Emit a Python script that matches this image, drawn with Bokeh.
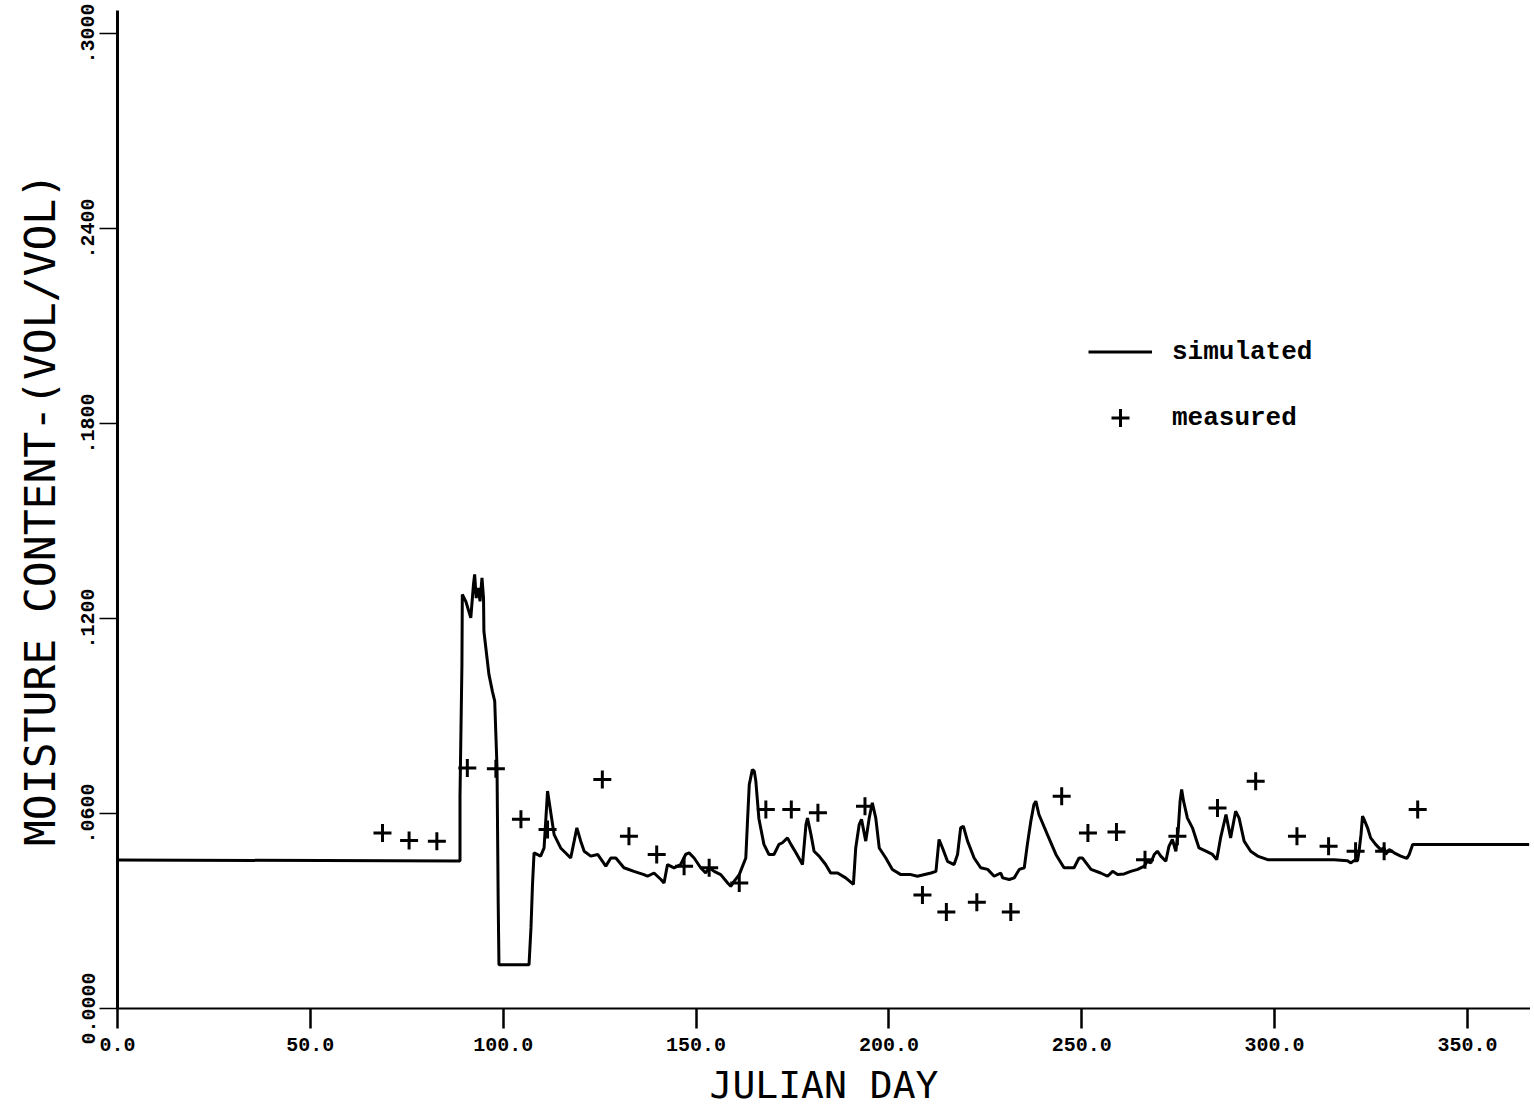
from bokeh.plotting import figure
from bokeh.models import Range1d, FixedTicker, Legend, LegendItem
from bokeh.embed import file_html
from bokeh.resources import INLINE

# ---------------- data ----------------
sim_day = [0.0, 88.8, 88.8, 89.3, 89.4, 90.3, 91.6, 92.3, 92.6, 93.0, 93.5, 94.0, 94.5, 94.9,
           95.0, 96.3, 97.2, 97.8, 98.4, 98.7, 98.9, 106.7, 107.2, 107.6, 108.0, 109.7, 110.6,
           111.5, 112.4, 113.2, 114.9, 117.5, 118.4, 119.1, 120.1, 121.0, 122.7, 124.5, 126.6,
           127.9, 129.2, 131.3, 133.9, 136.5, 137.4, 139.1, 140.9, 141.7, 142.6, 144.3, 146.0,
           147.3, 148.2, 149.5, 151.2, 152.5, 153.4, 154.7, 156.4, 158.2, 159.0, 159.9, 161.2,
           162.9, 163.3, 163.8, 164.6, 165.1, 165.5, 166.3, 167.6, 168.9, 170.2, 171.5, 172.4,
           173.7, 174.6, 175.9, 177.6, 178.5, 178.9, 179.8, 180.6, 181.9, 183.6, 184.9, 186.7,
           188.8, 190.8, 191.4, 192.3, 192.9, 194.0, 194.9, 195.7, 196.6, 197.5, 199.2, 200.9,
           203.1, 205.7, 207.4, 210.9, 212.2, 213.0, 213.9, 215.2, 216.9, 217.8, 218.6, 219.3,
           220.4, 222.1, 223.8, 225.6, 227.3, 229.0, 229.5, 231.2, 232.5, 233.8, 235.1, 235.9,
           236.8, 237.6, 238.1, 238.9, 241.1, 243.3, 245.4, 248.0, 249.3, 250.2, 252.4, 254.9,
           256.7, 258.0, 259.3, 261.0, 262.7, 264.5, 266.2, 267.0, 267.9, 268.8, 269.6, 270.5,
           271.8, 272.6, 273.5, 274.4, 275.0, 275.5, 275.9, 276.4, 277.4, 278.7, 280.4, 282.2,
           283.9, 285.0, 286.0, 287.4, 288.6, 289.9, 290.8, 292.1, 293.8, 295.6, 298.2, 302.5,
           309.4, 315.4, 318.9, 319.8, 320.6, 321.5, 321.9, 322.4, 322.8, 323.2, 324.1, 324.9,
           326.2, 327.5, 328.4, 328.8, 329.7, 331.0, 332.7, 334.3, 334.9, 335.8, 337.1, 366.0]
sim_moist = [0.0457, 0.0454, 0.0654, 0.1058, 0.1274, 0.1253, 0.1202, 0.1306, 0.1336, 0.1263,
             0.1294, 0.1253, 0.1325, 0.1263, 0.1161, 0.1028, 0.0976, 0.0946, 0.0740, 0.0330,
             0.0135, 0.0135, 0.0248, 0.0382, 0.0479, 0.0469, 0.0494, 0.0669, 0.0598, 0.0535,
             0.0494, 0.0463, 0.0515, 0.0556, 0.0515, 0.0484, 0.0469, 0.0474, 0.0438, 0.0463,
             0.0463, 0.0433, 0.0422, 0.0412, 0.0407, 0.0417, 0.0397, 0.0386, 0.0443, 0.0433,
             0.0443, 0.0474, 0.0479, 0.0463, 0.0433, 0.0417, 0.0433, 0.0422, 0.0412, 0.0386,
             0.0376, 0.0392, 0.0412, 0.0463, 0.0566, 0.0689, 0.0735, 0.0730, 0.0700, 0.0584,
             0.0505, 0.0474, 0.0474, 0.0505, 0.0510, 0.0525, 0.0505, 0.0479, 0.0443, 0.0566,
             0.0586, 0.0535, 0.0484, 0.0469, 0.0443, 0.0417, 0.0417, 0.0402, 0.0382, 0.0494,
             0.0566, 0.0582, 0.0515, 0.0586, 0.0633, 0.0586, 0.0494, 0.0463, 0.0428, 0.0412,
             0.0412, 0.0407, 0.0417, 0.0422, 0.0520, 0.0494, 0.0453, 0.0443, 0.0474, 0.0556,
             0.0561, 0.0515, 0.0463, 0.0433, 0.0428, 0.0407, 0.0417, 0.0402, 0.0397, 0.0402,
             0.0428, 0.0433, 0.0505, 0.0576, 0.0628, 0.0638, 0.0597, 0.0535, 0.0474, 0.0433,
             0.0433, 0.0463, 0.0463, 0.0428, 0.0417, 0.0407, 0.0422, 0.0412, 0.0414, 0.0422,
             0.0428, 0.0438, 0.0453, 0.0448, 0.0474, 0.0484, 0.0469, 0.0453, 0.0499, 0.0520,
             0.0484, 0.0546, 0.0638, 0.0674, 0.0638, 0.0586, 0.0556, 0.0494, 0.0484, 0.0474,
             0.0458, 0.0525, 0.0597, 0.0525, 0.0607, 0.0586, 0.0515, 0.0484, 0.0469, 0.0458,
             0.0458, 0.0458, 0.0458, 0.0455, 0.0448, 0.0455, 0.0455, 0.0484, 0.0535, 0.0592,
             0.0582, 0.0556, 0.0525, 0.0505, 0.0489, 0.0494, 0.0474, 0.0489, 0.0479, 0.0469,
             0.0462, 0.0474, 0.0505, 0.0505, 0.0505]

meas_day = [68.7, 75.6, 82.8, 90.7, 98.1, 104.6, 111.5, 125.7, 132.6, 139.8, 146.9, 153.4,
            161.2, 168.1, 174.7, 181.6, 193.8, 208.7, 214.9, 222.8, 231.6, 244.8, 251.6,
            259.0, 266.4, 274.8, 285.2, 295.1, 305.8, 314.0, 321.0, 328.4, 337.1]
meas_moist = [0.0540, 0.0517, 0.0515, 0.0740, 0.0738, 0.0582, 0.0551, 0.0705, 0.0530, 0.0474,
              0.0438, 0.0433, 0.0386, 0.0612, 0.0612, 0.0602, 0.0622, 0.0349, 0.0297, 0.0327,
              0.0297, 0.0653, 0.0540, 0.0543, 0.0458, 0.0530, 0.0617, 0.0699, 0.0530, 0.0499,
              0.0484, 0.0484, 0.0612]

x_ticks = [0, 50, 100, 150, 200, 250, 300, 350]
x_tick_labels = ["0.0", "50.0", "100.0", "150.0", "200.0", "250.0", "300.0", "350.0"]
y_ticks = [0.0, 0.06, 0.12, 0.18, 0.24, 0.30]
y_tick_labels = ["0.0000", ".0600", ".1200", ".1800", ".2400", ".3000"]

# ---------------- figure ----------------
p = figure(frame_width=1413, frame_height=998,
           x_range=Range1d(0, 366.35), y_range=Range1d(0, 0.3071),
           output_backend="svg", toolbar_location=None,
           min_border_left=117, min_border_top=10, min_border_right=0, min_border_bottom=100)
p.xgrid.visible = False
p.ygrid.visible = False
p.outline_line_color = None
p.background_fill_color = "white"
p.border_fill_color = "white"

line_r = p.line(sim_day, sim_moist, line_color="black", line_width=3)
cross_r = p.scatter(meas_day, meas_moist, marker="cross", size=18,
                    line_color="black", line_width=3)

tick_font = "Liberation Mono"
title_font = "DejaVu Sans Mono"

xa = p.xaxis[0]
xa.ticker = FixedTicker(ticks=x_ticks)
xa.major_label_overrides = {t: s for t, s in zip(x_ticks, x_tick_labels)}
xa.major_tick_out = 20
xa.major_tick_in = 0
xa.minor_tick_line_color = None
xa.axis_line_width = 2
xa.major_tick_line_width = 2.5
xa.major_label_text_font = tick_font
xa.major_label_text_font_style = "bold"
xa.major_label_text_font_size = "20px"
xa.major_label_text_color = "black"
xa.major_label_standoff = 9
xa.axis_label = "JULIAN DAY"
xa.axis_label_text_font = title_font
xa.axis_label_text_font_style = "normal"
xa.axis_label_text_font_size = "38px"
xa.axis_label_text_color = "black"
xa.axis_label_standoff = 9

ya = p.yaxis[0]
ya.ticker = FixedTicker(ticks=y_ticks)
ya.major_label_overrides = {t: s for t, s in zip(y_ticks, y_tick_labels)}
ya.major_tick_out = 18
ya.major_tick_in = 0
ya.minor_tick_line_color = None
ya.axis_line_width = 3
ya.major_tick_line_width = 1.5
ya.major_label_orientation = "vertical"
ya.major_label_text_font = tick_font
ya.major_label_text_font_style = "bold"
ya.major_label_text_font_size = "20px"
ya.major_label_text_color = "black"
ya.major_label_standoff = 5
ya.axis_label = "MOISTURE CONTENT-(VOL/VOL)"
ya.axis_label_text_font = title_font
ya.axis_label_text_font_style = "normal"
ya.axis_label_text_font_size = "43px"
ya.axis_label_text_color = "black"
ya.axis_label_standoff = 14

legend = Legend(items=[LegendItem(label="simulated", renderers=[line_r]),
                       LegendItem(label="measured", renderers=[cross_r])],
                location=(971, 568), orientation="vertical",
                glyph_width=64, glyph_height=45, label_height=45,
                label_standoff=20, spacing=21, padding=0, margin=0,
                border_line_color=None, background_fill_alpha=0,
                label_text_font=tick_font, label_text_font_style="bold",
                label_text_font_size="26px", label_text_color="black")
p.add_layout(legend)

open("out.html", "w").write(file_html(p, INLINE))
